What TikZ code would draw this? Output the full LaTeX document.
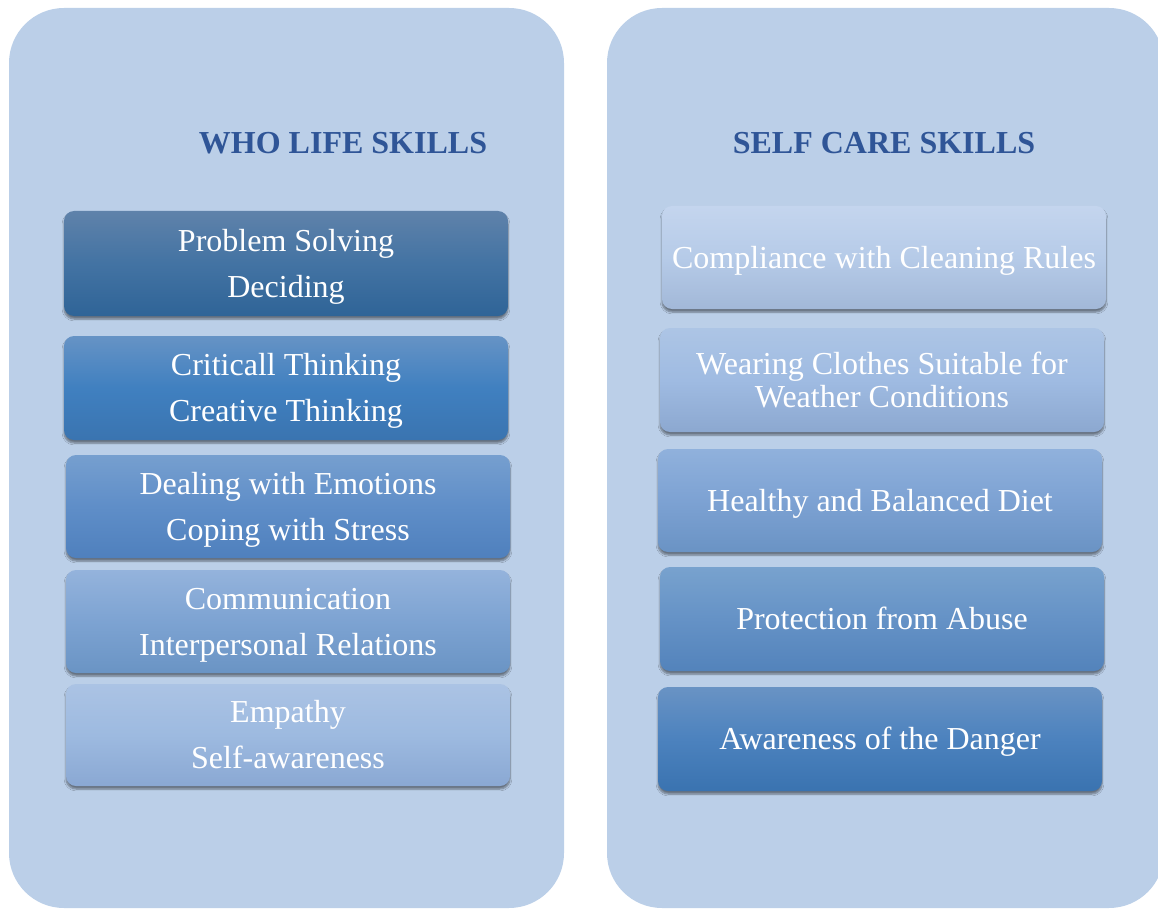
\documentclass[tikz,border=0pt]{standalone}
\usepackage{fontspec}
\setmainfont{Liberation Serif}
\usetikzlibrary{shadows.blur}

\definecolor{panelfill}{HTML}{BBCFE8}
\definecolor{headblue}{HTML}{2F5597}
% gradient stops (top, middle, bottom) of each box
\definecolor{lAt}{HTML}{5F82AA}\definecolor{lAm}{HTML}{4373A3}\definecolor{lAb}{HTML}{2F6497}
\definecolor{lBt}{HTML}{6693C5}\definecolor{lBm}{HTML}{4080C0}\definecolor{lBb}{HTML}{3A74B0}
\definecolor{lCt}{HTML}{769FCF}\definecolor{lCm}{HTML}{5F8EC8}\definecolor{lCb}{HTML}{4F80BD}
\definecolor{lDt}{HTML}{94B3DC}\definecolor{lDm}{HTML}{7DA3D2}\definecolor{lDb}{HTML}{6A94C4}
\definecolor{lEt}{HTML}{ABC3E4}\definecolor{lEm}{HTML}{9DBAE0}\definecolor{lEb}{HTML}{8AA8D3}
\definecolor{rAt}{HTML}{C4D5EE}\definecolor{rAm}{HTML}{B6CBE8}\definecolor{rAb}{HTML}{A2B8D8}
\definecolor{rBt}{HTML}{ADC5E5}\definecolor{rBm}{HTML}{9FBBE2}\definecolor{rBb}{HTML}{8CA8D0}
\definecolor{rCt}{HTML}{90B1DC}\definecolor{rCm}{HTML}{7DA2D3}\definecolor{rCb}{HTML}{6A93C4}
\definecolor{rDt}{HTML}{78A2CE}\definecolor{rDm}{HTML}{6592C6}\definecolor{rDb}{HTML}{5383BB}
\definecolor{rEt}{HTML}{6993C4}\definecolor{rEm}{HTML}{4C82BE}\definecolor{rEb}{HTML}{3A73B0}

% struts giving the first and last line the font's full ascent and descent
\newcommand\ascstrut{\rule{0pt}{28.5pt}}
\newcommand\descstrut{\rule[-6.9pt]{0pt}{6.9pt}}

\tikzset{
  panel/.style={fill=panelfill, draw=none, rounded corners=55pt},
  heading/.style={text=headblue, font=\bfseries\fontsize{32}{38}\selectfont, inner sep=0pt},
  skillbox/.style={draw=none, rounded corners=10pt, minimum width=444pt, inner sep=0pt,
    text=white, align=center, font=\fontsize{32}{46}\selectfont,
    execute at end node=\descstrut,
    blur shadow={shadow xshift=0pt, shadow yshift=-3pt, shadow blur steps=6, shadow opacity=45}},
  grad/.style={top color=#1t, bottom color=#1b, middle color=#1m},
}

\begin{document}
\begin{tikzpicture}[x=1pt,y=-1pt]
\useasboundingbox (0,0) rectangle (1158,909);

% two background panels
\fill[panel] (9,8) rectangle (564,908);
\fill[panel] (607,8) rectangle (1164,908);

% headings
\node[heading] (hleft) at (343,143) {WHO LIFE SKILLS};
\node[heading] (hright) at (884,143) {SELF CARE SKILLS};

% WHO life skills column
\node[skillbox, minimum height=105pt, grad=lA] (l1) at (286,263.5)
  {\ascstrut Problem Solving\\Deciding};
\node[skillbox, minimum height=104pt, grad=lB] (l2) at (286,388)
  {\ascstrut Criticall Thinking\\Creative Thinking};
\node[skillbox, minimum height=103pt, grad=lC] (l3) at (288,506.5)
  {\ascstrut Dealing with Emotions\\Coping with Stress};
\node[skillbox, minimum height=103pt, grad=lD] (l4) at (288,621.5)
  {\ascstrut Communication\\Interpersonal Relations};
\node[skillbox, minimum height=102pt, grad=lE] (l5) at (288,735)
  {\ascstrut Empathy\\Self-awareness};

% self care skills column
\node[skillbox, minimum height=103pt, grad=rA] (r1) at (884,257.5)
  {\ascstrut Compliance with Cleaning Rules};
\node[skillbox, minimum height=104pt, grad=rB,
  font=\fontsize{32}{33}\selectfont] (r2) at (882,380)
  {\ascstrut Wearing Clothes Suitable for\\Weather Conditions};
\node[skillbox, minimum height=103pt, grad=rC] (r3) at (880,500.5)
  {\ascstrut Healthy and Balanced Diet};
\node[skillbox, minimum height=104pt, grad=rD] (r4) at (882,619)
  {\ascstrut Protection from Abuse};
\node[skillbox, minimum height=104pt, grad=rE] (r5) at (880,739)
  {\ascstrut Awareness of the Danger};
\end{tikzpicture}
\end{document}
